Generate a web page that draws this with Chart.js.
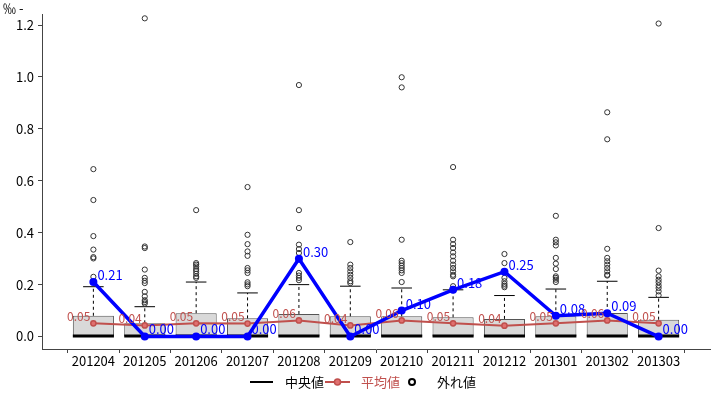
<!DOCTYPE html>
<html>
<head>
<meta charset="utf-8">
<script src="https://cdn.jsdelivr.net/npm/chart.js@4/dist/chart.umd.min.js"></script>
<style>
html,body{margin:0;padding:0;background:#fff;}
#wrap{width:720px;height:396px;}
</style>
</head>
<body>
<div id="wrap"><canvas id="c" width="720" height="396"></canvas></div>
<script>
// ---- data ----
const categories = ['201204','201205','201206','201207','201208','201209','201210','201211','201212','201301','201302','201303'];
const boxLow   = [0,0,0,0,0,0,0,0,0,0,0,0];
const boxHigh  = [0.080,0.051,0.090,0.070,0.087,0.078,0.078,0.074,0.068,0.078,0.091,0.065];
const medians  = [0,0,0,0,0,0,0,0,0,0,0,0];
const whiskerHigh = [0.192,0.115,0.210,0.168,0.200,0.194,0.187,0.180,0.158,0.183,0.213,0.151];
const means    = [0.051,0.043,0.051,0.050,0.062,0.043,0.062,0.051,0.042,0.051,0.062,0.051];
const highlight = [0.21,0.00,0.00,0.00,0.30,0.00,0.10,0.18,0.25,0.08,0.09,0.00];
const outliers = [
  [0.645,0.526,0.387,0.335,0.306,0.301,0.230],
  [1.226,0.347,0.341,0.258,0.226,0.215,0.206,0.172,0.155,0.140,0.133,0.127],
  [0.487,0.283,0.277,0.270,0.260,0.252,0.242,0.232,0.226],
  [0.576,0.392,0.356,0.328,0.311,0.264,0.255,0.245,0.209,0.201,0.194],
  [0.969,0.487,0.418,0.354,0.337,0.322,0.245,0.235,0.226,0.217],
  [0.364,0.277,0.264,0.251,0.238,0.226,0.213,0.206],
  [0.999,0.960,0.373,0.292,0.283,0.273,0.264,0.255,0.245,0.210],
  [0.653,0.373,0.356,0.341,0.324,0.309,0.292,0.277,0.264,0.251,0.238,0.232,0.194],
  [0.318,0.283,0.226,0.213,0.203,0.196,0.190],
  [0.465,0.373,0.363,0.351,0.303,0.281,0.260,0.232,0.226,0.219,0.210],
  [0.864,0.760,0.338,0.303,0.290,0.277,0.264,0.251,0.238,0.235],
  [1.206,0.418,0.254,0.232,0.219,0.209,0.197,0.187,0.174,0.159]
];
const yTicks = [0.0,0.2,0.4,0.6,0.8,1.0,1.2];
const unitLabel = '‰ -';
const legendLabels = ['中央値','平均値','外れ値'];

// ---- build ----
const FONT = '"Noto Sans CJK JP", "Noto Sans", sans-serif';
const RED = '#c0504d';
const BLUE = '#0000ff';
const labels = [''].concat(categories, ['']);
const pad = arr => [null].concat(arr, [null]);
const boxData = pad(categories.map((c,i)=>[boxLow[i], boxHigh[i]]));
const outlierPts = [];
categories.forEach((c,i)=>outliers[i].forEach(v=>outlierPts.push({x:c,y:v})));

const boxPlugin = {
  id:'boxParts',
  afterDatasetDraw(chart, args){
    if (args.index !== 0) return;
    const ctx = chart.ctx, xs = chart.scales.x, ys = chart.scales.y;
    const meta = chart.getDatasetMeta(0);
    ctx.save();
    categories.forEach((c,i)=>{
      const el = meta.data[i+1];
      const x = xs.getPixelForValue(i+1);
      const w = el ? el.width : 40;
      const yTop = ys.getPixelForValue(boxHigh[i]);
      const yW = ys.getPixelForValue(whiskerHigh[i]);
      ctx.strokeStyle = '#000';
      ctx.lineWidth = 1;
      ctx.setLineDash([3,3]);
      ctx.beginPath(); ctx.moveTo(x, yTop); ctx.lineTo(x, yW); ctx.stroke();
      ctx.setLineDash([]);
      ctx.beginPath(); ctx.moveTo(x - w/4, yW); ctx.lineTo(x + w/4, yW); ctx.stroke();
      const yM = ys.getPixelForValue(medians[i]);
      ctx.lineWidth = 3;
      ctx.beginPath(); ctx.moveTo(x - w/2, yM - 0.5); ctx.lineTo(x + w/2, yM - 0.5); ctx.stroke();
    });
    ctx.restore();
  },
  afterDatasetsDraw(chart){
    const ctx = chart.ctx;
    ctx.save();
    ctx.font = '12px ' + FONT;
    ctx.textBaseline = 'middle';
    const mMeta = chart.getDatasetMeta(2);
    ctx.fillStyle = RED; ctx.textAlign = 'right';
    categories.forEach((c,i)=>{
      const p = mMeta.data[i+1];
      ctx.fillText(means[i].toFixed(2), p.x - 3, p.y - 7);
    });
    const hMeta = chart.getDatasetMeta(3);
    ctx.font = '13px ' + FONT;
    ctx.fillStyle = BLUE; ctx.textAlign = 'left';
    categories.forEach((c,i)=>{
      const p = hMeta.data[i+1];
      ctx.fillText(highlight[i].toFixed(2), p.x + 4, p.y - 7);
    });
    ctx.restore();
  },
  afterDraw(chart){
    const ctx = chart.ctx;
    ctx.save();
    ctx.font = '13px ' + FONT;
    ctx.textBaseline = 'middle';
    ctx.fillStyle = '#000'; ctx.textAlign = 'left';
    ctx.fillText(unitLabel, 3, 8);
    const ly = 382;
    ctx.strokeStyle = '#000'; ctx.lineWidth = 2;
    ctx.beginPath(); ctx.moveTo(250, ly); ctx.lineTo(273, ly); ctx.stroke();
    ctx.fillText(legendLabels[0], 285, ly);
    ctx.strokeStyle = RED; ctx.lineWidth = 2;
    ctx.beginPath(); ctx.moveTo(325, ly); ctx.lineTo(350, ly); ctx.stroke();
    ctx.beginPath(); ctx.arc(337.5, ly, 3, 0, Math.PI*2);
    ctx.fillStyle = '#e07070'; ctx.fill(); ctx.lineWidth = 1.5; ctx.stroke();
    ctx.fillStyle = RED;
    ctx.fillText(legendLabels[1], 361, ly);
    ctx.strokeStyle = '#000'; ctx.lineWidth = 2;
    ctx.beginPath(); ctx.arc(412, ly, 3, 0, Math.PI*2); ctx.stroke();
    ctx.fillStyle = '#000';
    ctx.fillText(legendLabels[2], 437, ly);
    ctx.restore();
  }
};

new Chart(document.getElementById('c'), {
  data: {
    labels: labels,
    datasets: [
      { type:'bar', data: boxData, backgroundColor:'#d9d9d9', borderColor:'#555', borderWidth:1,
        borderSkipped:false, barPercentage:0.8, categoryPercentage:1.0, order:5 },
      { type:'line', data: outlierPts, showLine:false, pointRadius:2.6, pointBorderWidth:1,
        pointBackgroundColor:'rgba(255,255,255,0)', pointBorderColor:'#333', order:4 },
      { type:'line', data: pad(means), borderColor:RED, borderWidth:2, pointRadius:2.6,
        pointBackgroundColor:'#e07070', pointBorderColor:RED, pointBorderWidth:1.5, order:2 },
      { type:'line', data: pad(highlight), borderColor:BLUE, borderWidth:3.5, pointRadius:4,
        pointBackgroundColor:BLUE, pointBorderColor:BLUE, pointBorderWidth:0, order:1 }
    ]
  },
  options: {
    responsive:false, animation:false,
    layout:{ padding:{ top:14, right:10, left:0, bottom:0 } },
    plugins:{ legend:{display:false}, tooltip:{enabled:false} },
    scales:{
      x:{
        type:'category', offset:false,
        grid:{ display:true, drawOnChartArea:false, drawTicks:true, tickLength:4, color:'#444' },
        border:{ display:true, color:'#444', width:1 },
        ticks:{ autoSkip:false, maxRotation:0, padding:0, color:'#000', font:{ family:FONT, size:13 },
          callback:function(v){ return labels[v]; } },
        afterFit:function(s){ s.height = 47; }
      },
      y:{
        min:-0.048, max:1.2427,
        afterBuildTicks:function(s){ s.ticks = yTicks.map(v=>({value:v})); },
        grid:{ display:true, drawOnChartArea:false, drawTicks:true, tickLength:4, color:'#444' },
        border:{ display:true, color:'#444', width:1 },
        ticks:{ padding:4, color:'#000', font:{ family:FONT, size:13 },
          callback:function(v){ return Number(v).toFixed(1); } },
        afterFit:function(s){ s.width = 42; }
      }
    }
  },
  plugins:[boxPlugin]
});
</script>
</body>
</html>
